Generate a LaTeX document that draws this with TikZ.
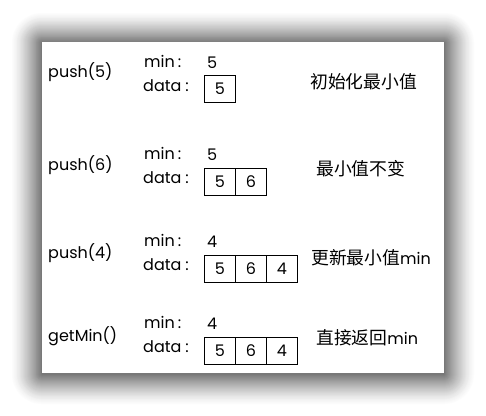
\documentclass[tikz,border=0pt]{standalone}
\usepackage{fontspec}
\setmainfont{Poppins}
\newfontfamily\cjk{Noto Sans CJK SC}
\begin{document}
\begin{tikzpicture}[x=1pt,y=-1pt,
  lbl/.style={anchor=base west, inner sep=0pt, font=\fontsize{16}{19}\selectfont},
  zh/.style={anchor=base west, inner sep=0pt, font=\fontsize{16}{19}\selectfont},
  cell/.style={draw, line width=0.8pt, minimum width=31pt, minimum height=27pt,
    inner sep=0pt, anchor=north west, font=\fontsize{16}{19}\selectfont}]
\useasboundingbox[fill=white] (0,0) rectangle (486,415);
% shadow: opaque rings from outside in
\foreach \d in {30,29,...,1} {
  \pgfmathtruncatemacro{\D}{round(55*(1-\d/31)^1.3)}
  \fill[black!\D, rounded corners=\d pt] ({42-\d},{43-\d}) rectangle ({444+\d},{374+\d});
}
\fill[white] (42,42) rectangle (444,373);
% row 1
\node[lbl] (op1) at (48,77) {push(5)};
\node[lbl] (m1) at (144,67) {min\hspace{3pt}:};
\node[lbl] (mv1) at (207,68) {5};
\node[lbl] (d1) at (143,91) {data\hspace{4pt}:};
\node[cell] (c11) at (204,75) {5};
\node[zh] (t1) at (310,88) {\cjk\fontsize{17.8}{20}\selectfont 初始化最小值};
% row 2
\node[lbl] (op2) at (48,170) {push(6)};
\node[lbl] (m2) at (144,159) {min\hspace{3pt}:};
\node[lbl] (mv2) at (207,160) {5};
\node[lbl] (d2) at (143,183) {data\hspace{4pt}:};
\node[cell] (c21) at (204,168) {5};
\node[cell] (c22) at (235,168) {6};
\node[zh] (t2) at (316,175) {\cjk\fontsize{17.8}{20}\selectfont 最小值不变};
% row 3
\node[lbl] (op3) at (48,258) {push(4)};
\node[lbl] (m3) at (144,246) {min\hspace{3pt}:};
\node[lbl] (mv3) at (207,247) {4};
\node[lbl] (d3) at (143,270) {data\hspace{4pt}:};
\node[cell] (c31) at (204,255) {5};
\node[cell] (c32) at (235,255) {6};
\node[cell] (c33) at (266,255) {4};
\node[zh] (t3) at (311,264) {{\cjk\fontsize{17.8}{20}\selectfont 更新最小值}min};
% row 4
\node[lbl] (op4) at (48,341) {getMin()};
\node[lbl] (m4) at (144,328) {min\hspace{3pt}:};
\node[lbl] (mv4) at (207,329) {4};
\node[lbl] (d4) at (143,352) {data\hspace{4pt}:};
\node[cell] (c41) at (204,337) {5};
\node[cell] (c42) at (235,337) {6};
\node[cell] (c43) at (266,337) {4};
\node[zh] (t4) at (316,344) {{\cjk\fontsize{17.8}{20}\selectfont 直接返回}min};
\end{tikzpicture}
\end{document}
